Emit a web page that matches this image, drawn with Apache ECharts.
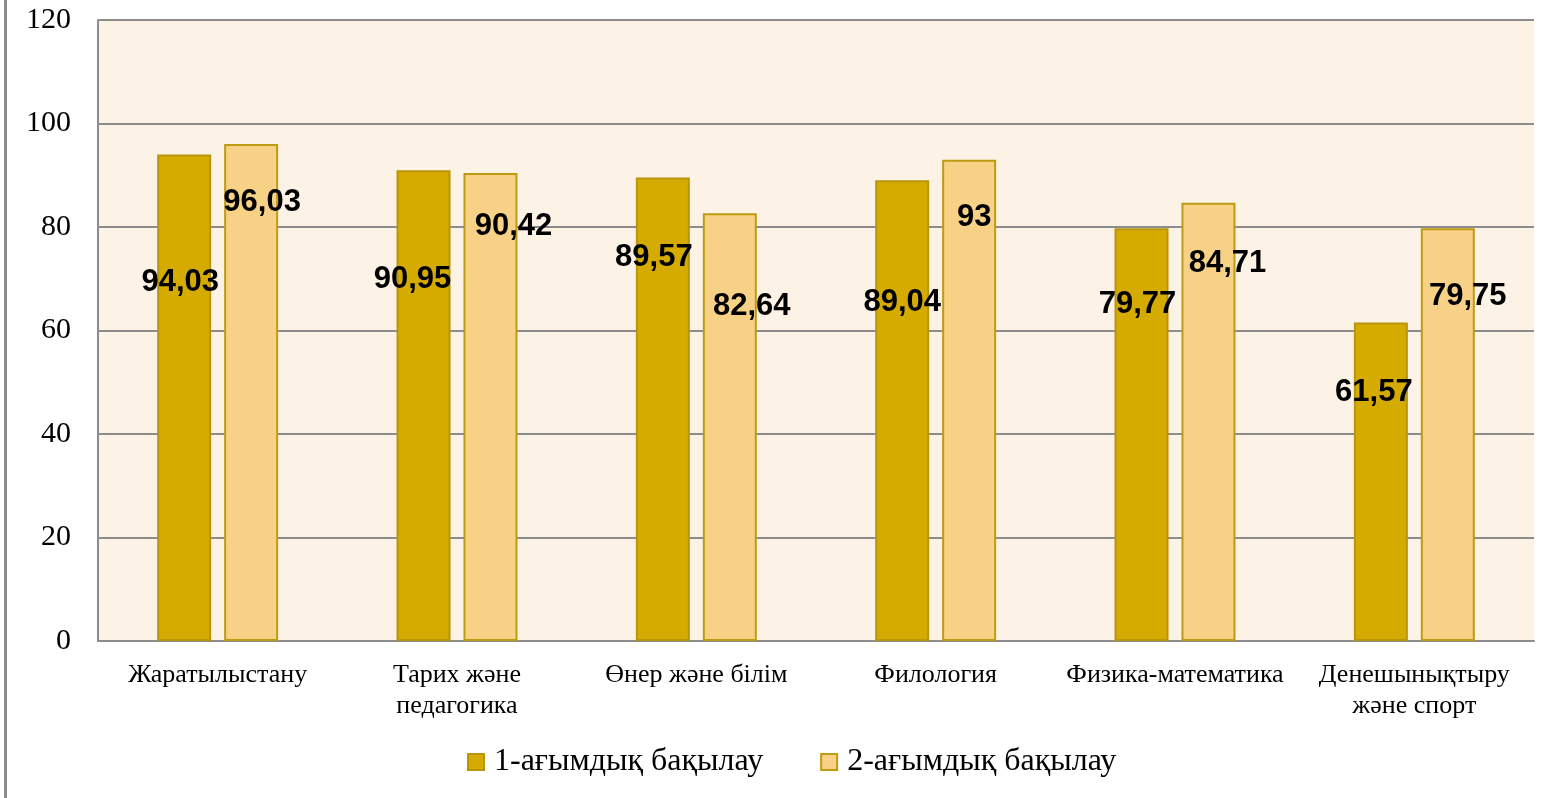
<!DOCTYPE html>
<html>
<head>
<meta charset="utf-8">
<script src="https://cdn.jsdelivr.net/npm/echarts@6/dist/echarts.min.js"></script>
<style>html,body{margin:0;padding:0;background:#fff;}#c{width:1546px;height:798px;}</style>
</head>
<body>
<div id="c"></div>
<script>
const categories = ['Жаратылыстану', 'Тарих және\nпедагогика', 'Өнер және білім', 'Филология', 'Физика-математика', 'Денешынықтыру\nжәне спорт'];
const seriesNames = ['1-ағымдық бақылау', '2-ағымдық бақылау'];
const current1 = [94.03, 90.95, 89.57, 89.04, 79.77, 61.57];
const current2 = [96.03, 90.42, 82.64, 93, 84.71, 79.75];
const yTicks = { min: 0, max: 120, interval: 20 };

// label placement relative to bar top: [dx, label-center distance below bar top]
const labelPlace1 = [[-4, 128], [-11, 109], [-9, 80], [0, 122], [-4, 76], [-7, 70]];
const labelPlace2 = [[11, 58], [23, 53], [22, 93], [5, 58], [19, 61], [20, 68]];

const LABEL_FS = 31;
function fmt(v) { return String(v).replace('.', ','); }
function buildData(vals, place) {
  return vals.map((v, i) => ({
    value: v,
    label: { offset: [place[i][0], place[i][1] - LABEL_FS / 2] }
  }));
}

const chart = echarts.init(document.getElementById('c'));
const gray = '#8c8c8c';
chart.setOption({
  backgroundColor: '#ffffff',
  animation: false,
  grid: { left: 98, right: 12, top: 20, bottom: 157, show: true, backgroundColor: '#FDF2E6', borderWidth: 0 },
  graphic: [{
    type: 'line', shape: { x1: 5.5, y1: 0, x2: 5.5, y2: 798 },
    style: { stroke: gray, lineWidth: 3 }
  }],
  legend: {
    bottom: 15, left: 462, itemWidth: 16, itemHeight: 16, itemGap: 57,
    icon: 'rect',
    textStyle: { fontFamily: 'Liberation Serif', fontSize: 32, color: '#000', padding: [0, 0, 0, 5] },
    data: seriesNames
  },
  xAxis: {
    type: 'category', data: categories,
    axisLine: { show: true, lineStyle: { color: gray, width: 2 } },
    axisTick: { show: false },
    axisLabel: { fontFamily: 'Liberation Serif', fontSize: 26, color: '#000', margin: 19, lineHeight: 31, interval: 0 }
  },
  yAxis: {
    type: 'value', min: yTicks.min, max: yTicks.max, interval: yTicks.interval,
    axisLine: { show: true, lineStyle: { color: gray, width: 2 } },
    axisTick: { show: false },
    axisLabel: { fontFamily: 'Liberation Serif', fontSize: 30, color: '#000', margin: 27 },
    splitLine: { lineStyle: { color: gray, width: 2 } }
  },
  series: [
    {
      name: seriesNames[0], type: 'bar', barWidth: 54, barGap: '24%',
      itemStyle: { color: '#D6AB00', borderColor: '#B8950C', borderWidth: 2 },
      label: {
        show: true, position: 'insideTop', distance: 0, lineHeight: LABEL_FS,
        fontFamily: 'Liberation Sans', fontWeight: 'bold', fontSize: LABEL_FS, color: '#000',
        formatter: p => fmt(p.value)
      },
      data: buildData(current1, labelPlace1)
    },
    {
      name: seriesNames[1], type: 'bar', barWidth: 54, barGap: '24%',
      itemStyle: { color: '#F7D186', borderColor: '#BF9B12', borderWidth: 2 },
      label: {
        show: true, position: 'insideTop', distance: 0, lineHeight: LABEL_FS,
        fontFamily: 'Liberation Sans', fontWeight: 'bold', fontSize: LABEL_FS, color: '#000',
        formatter: p => fmt(p.value)
      },
      data: buildData(current2, labelPlace2)
    }
  ]
});
</script>
</body>
</html>
